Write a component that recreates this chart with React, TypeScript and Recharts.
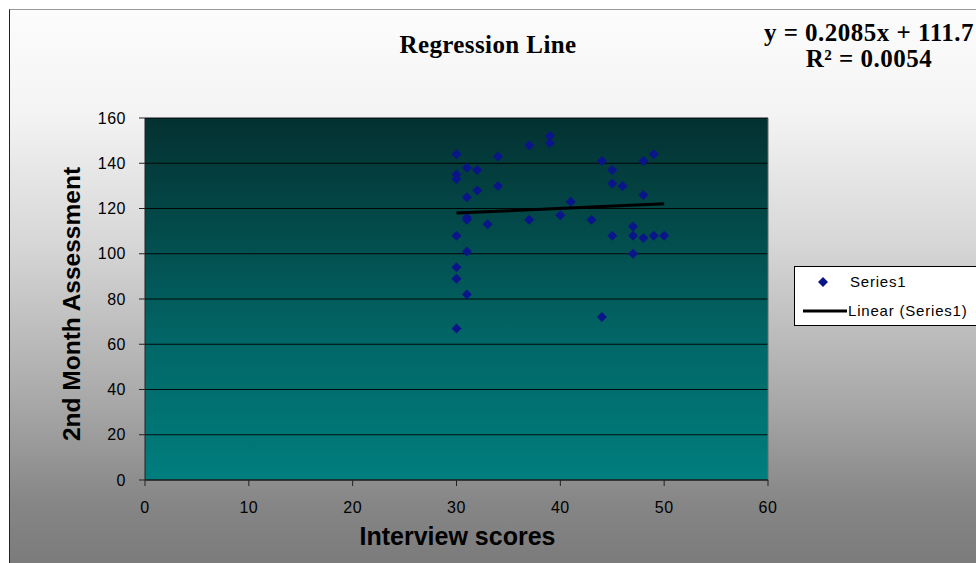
import React from 'react';
import { ScatterChart, Scatter, XAxis, YAxis, CartesianGrid, Legend, ReferenceLine } from 'recharts';

const interviewScores = [
  30, 30, 30, 30, 30, 30, 30,
  31, 31, 31, 31, 31, 31,
  32, 32, 33, 34, 34, 37, 37, 39, 39, 40, 41, 43, 44, 44,
  45, 45, 45, 46, 47, 47, 47, 48, 48, 48, 49, 49, 50,
];
const monthAssessment = [
  144, 135, 133, 108, 94, 89, 67,
  138, 125, 116, 115, 101, 82,
  137, 128, 113, 143, 130, 148, 115, 152, 149, 117, 123, 115, 141, 72,
  137, 131, 108, 130, 112, 108, 100, 141, 126, 107, 144, 108, 108,
];
const trendX = [30, 50];
const trendY = [117.96, 122.13];
const xTicks = [0, 10, 20, 30, 40, 50, 60];
const yTicks = [0, 20, 40, 60, 80, 100, 120, 140, 160];
const seriesName = 'Series1';
const trendName = 'Linear (Series1)';
const chartTitle = 'Regression Line';
const equationLines = ['y = 0.2085x + 111.7', 'R\u00B2 = 0.0054'];
const xTitle = 'Interview scores';
const yTitle = '2nd Month Assessment';

const points = interviewScores.map((x, i) => ({ x, y: monthAssessment[i] }));
const trendData = trendX.map((x, i) => ({ x, y: trendY[i] }));

const SANS = '"Liberation Sans", Arial, sans-serif';
const SERIF = '"Liberation Serif", "Times New Roman", serif';
const MARK = '#0a1589';

const Diamond = (props: any) => {
  const { cx, cy } = props;
  if (cx == null || cy == null) return <g />;
  const r = 5;
  return <path d={`M${cx},${cy - r}L${cx + r},${cy}L${cx},${cy + r}L${cx - r},${cy}Z`} fill={MARK} />;
};

const NoShape = () => <g />;

const LegendBox = () => (
  <div
    style={{
      width: 200,
      height: 58,
      background: '#ffffff',
      border: '1px solid #000',
      position: 'relative',
      fontFamily: SANS,
      fontSize: 15,
      letterSpacing: 0.8,
      color: '#000',
    }}
  >
    <svg width={60} height={58} style={{ position: 'absolute', left: 0, top: 0 }}>
      <path d="M28,10L33,15L28,20L23,15Z" fill={MARK} />
      <line x1={8} x2={52} y1={44} y2={44} stroke="#000" strokeWidth={3} />
    </svg>
    <div style={{ position: 'absolute', left: 55, top: 5, lineHeight: '20px', whiteSpace: 'nowrap' }}>{seriesName}</div>
    <div style={{ position: 'absolute', left: 53, top: 34, lineHeight: '20px', whiteSpace: 'nowrap' }}>{trendName}</div>
  </div>
);

const YTitle = (props: any) => {
  const vb = props.viewBox || { x: 0, y: 118, width: 145, height: 362 };
  const x = vb.x + 71;
  const y = vb.y + vb.height / 2 + 5;
  return (
    <text
      x={x}
      y={y}
      transform={`rotate(-90, ${x}, ${y})`}
      textAnchor="middle"
      dominantBaseline="central"
      fontFamily={SANS}
      fontWeight="bold"
      fontSize={24.5}
      fill="#000"
    >
      {yTitle}
    </text>
  );
};

const XTitle = (props: any) => {
  const vb = props.viewBox || { x: 145, y: 480, width: 623, height: 83 };
  return (
    <text
      x={vb.x + vb.width / 2 + 1}
      y={vb.y + 65}
      textAnchor="middle"
      fontFamily={SANS}
      fontWeight="bold"
      fontSize={25}
      fill="#000"
    >
      {xTitle}
    </text>
  );
};

export default function App() {
  return (
    <div style={{ position: 'absolute', left: 0, top: 0, width: 976, height: 563, overflow: 'hidden', background: '#fff' }}>
      <div
        style={{
          position: 'absolute',
          left: 9,
          top: 9,
          width: 980,
          height: 560,
          borderTop: '1px solid #9a9a9a',
          borderLeft: '1px solid #222',
          background:
            'linear-gradient(to bottom, #fcfcfc 0%, #f4f4f4 18%, #d6d6d6 42%, #a8a8a8 70%, #868686 88%, #7a7a7a 100%)',
        }}
      />
      <svg width={976} height={563} style={{ position: 'absolute', left: 0, top: 0 }}>
        <text x={488} y={53} textAnchor="middle" fontFamily={SERIF} fontWeight="bold" fontSize={25} letterSpacing={0.4} fill="#000">
          {chartTitle}
        </text>
        <text x={869} y={41} textAnchor="middle" fontFamily={SERIF} fontWeight="bold" fontSize={25} letterSpacing={0.5} fill="#000">
          {equationLines[0]}
        </text>
        <text x={869} y={67} textAnchor="middle" fontFamily={SERIF} fontWeight="bold" fontSize={25} letterSpacing={0.5} fill="#000">
          {equationLines[1]}
        </text>
      </svg>
      <div style={{ position: 'absolute', left: 0, top: 0 }}>
        <ScatterChart width={976} height={563} margin={{ top: 118, right: 208, bottom: 0, left: 0 }}>
          <defs>
            <linearGradient id="plotBg" x1="0" y1="0" x2="0" y2="1">
              <stop offset="0%" stopColor="#043131" />
              <stop offset="30%" stopColor="#034a4a" />
              <stop offset="60%" stopColor="#026565" />
              <stop offset="100%" stopColor="#007e7e" />
            </linearGradient>
          </defs>
          <CartesianGrid vertical={false} stroke="#000" strokeOpacity={0.9} fill="url(#plotBg)" fillOpacity={1} />
          <XAxis
            type="number"
            dataKey="x"
            domain={[0, 60]}
            ticks={xTicks}
            interval={0}
            height={83}
            tickSize={6}
            tickMargin={16}
            axisLine={{ stroke: '#222' }}
            tickLine={{ stroke: '#222' }}
            tick={{ fill: '#000', fontSize: 16, fontFamily: SANS, letterSpacing: 0.5 }}
            label={{ content: <XTitle /> }}
            allowDataOverflow
          />
          <YAxis
            type="number"
            dataKey="y"
            domain={[0, 160]}
            ticks={yTicks}
            interval={0}
            width={145}
            tickSize={6}
            tickMargin={13}
            axisLine={{ stroke: '#222' }}
            tickLine={{ stroke: '#222' }}
            tick={{ fill: '#000', fontSize: 16, fontFamily: SANS, letterSpacing: 0.5 }}
            label={{ content: <YTitle /> }}
            allowDataOverflow
          />
          <ReferenceLine x={60} stroke="#6a6a6a" />
          <Scatter name={seriesName} data={points} shape={<Diamond />} fill={MARK} isAnimationActive={false} />
          <Scatter
            name={trendName}
            data={trendData}
            shape={<NoShape />}
            line={{ stroke: '#000', strokeWidth: 3 }}
            isAnimationActive={false}
          />
          <Legend
            layout="horizontal"
            verticalAlign="middle"
            align="center"
            content={<LegendBox />}
            wrapperStyle={{ left: 794, top: 266, width: 202, height: 60 }}
          />
        </ScatterChart>
      </div>
    </div>
  );
}
